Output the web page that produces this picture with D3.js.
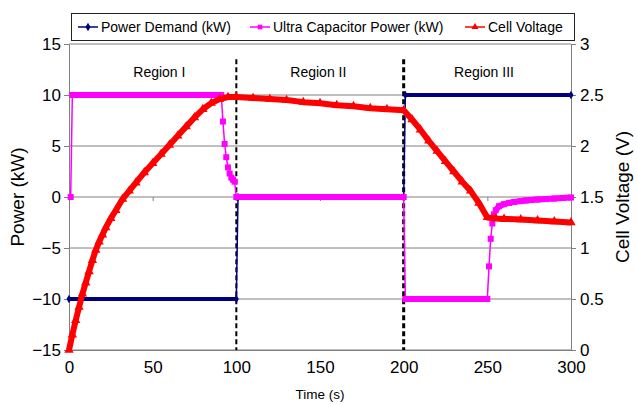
<!DOCTYPE html>
<html>
<head>
<meta charset="utf-8">
<script src="https://cdn.jsdelivr.net/npm/d3@7"></script>
<style>
  body { margin: 0; background: #fff; }
  svg { display: block; font-family: "Liberation Sans", Arial, sans-serif; }
</style>
</head>
<body>
<svg width="637" height="404"></svg>
<script>
// Power Demand (kW)
const demandTime = [0, 100, 101, 200, 201, 300];
const demandKW = [-10, -10, 0, 0, 10, 10];

// Ultra Capacitor Power (kW)
const capTime = [1, 2, 91, 92, 93, 94, 95, 96, 97, 98, 99, 100, 200, 201, 250, 251, 252, 253, 254, 255, 257, 260, 263, 266, 270, 273, 276, 280, 285, 290, 295, 300];
const capKW = [0, 10, 10, 7.4, 5.2, 3.9, 2.9, 2.3, 1.9, 1.7, 1.5, 0, 0, -10, -10, -6.8, -4.1, -2.6, -1.7, -1.3, -0.9, -0.7, -0.58, -0.48, -0.4, -0.34, -0.3, -0.25, -0.2, -0.15, -0.1, -0.05];

// Cell Voltage (V)
const voltTime = [0, 2, 4, 6, 8, 10, 12, 14, 16, 18, 20, 22, 25, 28, 32, 36, 40, 45, 50, 55, 60, 65, 70, 75, 80, 85, 90, 95, 100,
  110, 120, 130, 140, 150, 160, 170, 180, 190, 200,
  205, 210, 215, 220, 225, 230, 235, 240, 245, 250, 255, 260, 270, 280, 290, 300];
const voltV = [0, 0.15, 0.29, 0.42, 0.55, 0.66, 0.77, 0.88, 0.98, 1.06, 1.13, 1.20, 1.29, 1.37, 1.48, 1.56, 1.64, 1.74, 1.83, 1.92, 2.01, 2.10, 2.19, 2.28, 2.36, 2.42, 2.46, 2.48, 2.48,
  2.47, 2.46, 2.45, 2.43, 2.42, 2.40, 2.39, 2.37, 2.36, 2.35,
  2.26, 2.16, 2.05, 1.95, 1.85, 1.75, 1.65, 1.56, 1.44, 1.30, 1.29, 1.285, 1.28, 1.27, 1.26, 1.25];

const xTicks = [0, 50, 100, 150, 200, 250, 300];
const leftTicks = [-15, -10, -5, 0, 5, 10, 15];
const rightTicks = [0, 0.5, 1, 1.5, 2, 2.5, 3];
const regionNames = ["Region I", "Region II", "Region III"];
const regionCenters = [54, 149, 248];
const regionBounds = [100, 200];

const svg = d3.select("svg");
const x = d3.scaleLinear().domain([0, 300]).range([69, 571]);
const yL = d3.scaleLinear().domain([-15, 15]).range([350, 44]);
const yR = d3.scaleLinear().domain([0, 3]).range([350, 44]);
const grey = "#808080";

// grid lines
svg.append("g").selectAll("line")
  .data(leftTicks)
  .enter().append("line")
  .attr("x1", x(0)).attr("x2", x(300))
  .attr("y1", d => yL(d)).attr("y2", d => yL(d))
  .attr("stroke", grey).attr("stroke-width", 1);

// left axis
const gL = svg.append("g")
  .attr("transform", `translate(${x(0)},0)`)
  .call(d3.axisLeft(yL).tickValues(leftTicks).tickSize(5).tickSizeOuter(0).tickPadding(3));
// right axis
const gR = svg.append("g")
  .attr("transform", `translate(${x(300)},0)`)
  .call(d3.axisRight(yR).tickValues(rightTicks).tickSize(5).tickSizeOuter(0).tickPadding(4)
    .tickFormat(d3.format("~g")));
// x ticks sit on the zero line, labels under the plot
const gX0 = svg.append("g")
  .attr("transform", `translate(0,${yL(0)})`)
  .call(d3.axisBottom(x).tickValues(xTicks).tickSize(4).tickSizeOuter(0).tickFormat(""));
gX0.select(".domain").remove();
const gX = svg.append("g")
  .attr("transform", `translate(0,${yL(-15)})`)
  .call(d3.axisBottom(x).tickValues(xTicks).tickSize(0).tickSizeOuter(0).tickPadding(11));

[gL, gR, gX0, gX].forEach(g => {
  g.selectAll(".domain").attr("stroke", grey);
  g.selectAll(".tick line").attr("stroke", grey);
  g.selectAll("text").attr("font-size", 17).attr("fill", "#000")
    .attr("font-family", "Liberation Sans, Arial, sans-serif");
});

// region dividers
svg.append("g").selectAll("line")
  .data(regionBounds)
  .enter().append("line")
  .attr("x1", d => x(d)).attr("x2", d => x(d))
  .attr("y1", yL(13.5)).attr("y2", yL(-15))
  .attr("stroke", "#000")
  .attr("stroke-width", (d, i) => i === 0 ? 2 : 3)
  .attr("stroke-dasharray", "5,3");

svg.append("g").selectAll("text")
  .data(regionNames)
  .enter().append("text")
  .attr("x", (d, i) => x(regionCenters[i]))
  .attr("y", yL(11.75))
  .attr("text-anchor", "middle")
  .attr("font-size", 14)
  .text(d => d);

// series drawing: thin line, a thick band where the samples are dense and flat, markers
function drawSeries(ts, vs, y, color, bandW, marker, markerSize) {
  const pts = ts.map((t, i) => [x(t), y(vs[i])]);
  const g = svg.append("g");
  g.append("path")
    .attr("d", d3.line()(pts))
    .attr("fill", "none").attr("stroke", color).attr("stroke-width", 1.5);
  const band = [];
  for (let i = 1; i < pts.length; i++) {
    const dx = pts[i][0] - pts[i - 1][0], dy = Math.abs(pts[i][1] - pts[i - 1][1]);
    if (dx > 0 && dy / dx < 1.5) band.push([pts[i - 1], pts[i]]);
  }
  g.selectAll("path.band")
    .data(band)
    .enter().append("path")
    .attr("class", "band")
    .attr("d", d => d3.line()(d))
    .attr("fill", "none").attr("stroke", color).attr("stroke-width", bandW);
  g.selectAll("path.mark")
    .data(pts)
    .enter().append("path")
    .attr("class", "mark")
    .attr("transform", d => `translate(${d[0]},${d[1]})`)
    .attr("d", d3.symbol().type(marker).size(markerSize))
    .attr("fill", color);
}

drawSeries(demandTime, demandKW, yL, "#000080", 4, d3.symbolDiamond, 22);
drawSeries(capTime, capKW, yL, "#ff00ff", 6, d3.symbolSquare, 36);
// voltage band is thick everywhere (markers every second in the source)
(function () {
  const pts = voltTime.map((t, i) => [x(t), yR(voltV[i])]);
  const g = svg.append("g");
  g.append("path")
    .attr("d", d3.line()(pts))
    .attr("fill", "none").attr("stroke", "#ff0000").attr("stroke-width", 6)
    .attr("stroke-linejoin", "round");
  g.selectAll("path.mark")
    .data(pts)
    .enter().append("path")
    .attr("transform", d => `translate(${d[0]},${d[1]})`)
    .attr("d", d3.symbol().type(d3.symbolTriangle).size(38))
    .attr("fill", "#ff0000");
})();

// axis titles
svg.append("text")
  .attr("transform", `translate(24,${yL(0)}) rotate(-90)`)
  .attr("text-anchor", "middle")
  .attr("font-size", 19)
  .text("Power (kW)");
svg.append("text")
  .attr("transform", `translate(629,${yL(0)}) rotate(-90)`)
  .attr("text-anchor", "middle")
  .attr("font-size", 19)
  .text("Cell Voltage (V)");
svg.append("text")
  .attr("x", x(150)).attr("y", 399)
  .attr("text-anchor", "middle")
  .attr("font-size", 13.5)
  .text("Time (s)");

// legend
const legendItems = ["Power Demand (kW)", "Ultra Capacitor Power (kW)", "Cell Voltage"];
const legendColors = ["#000080", "#ff00ff", "#ff0000"];
const legendMarkers = [d3.symbolDiamond, d3.symbolSquare, d3.symbolTriangle];
const legendX = [78, 250, 465];
const lg = svg.append("g");
lg.append("rect")
  .attr("x", 71.5).attr("y", 13.5).attr("width", 503).attr("height", 27)
  .attr("fill", "#fff").attr("stroke", "#222").attr("stroke-width", 1);
const item = lg.selectAll("g.item")
  .data(legendItems)
  .enter().append("g")
  .attr("transform", (d, i) => `translate(${legendX[i]},27)`);
item.append("line")
  .attr("x1", 0).attr("x2", 20)
  .attr("stroke", (d, i) => legendColors[i]).attr("stroke-width", 1.5);
item.append("path")
  .attr("transform", "translate(10,0)")
  .attr("d", (d, i) => d3.symbol().type(legendMarkers[i]).size(22)())
  .attr("fill", (d, i) => legendColors[i]);
item.append("text")
  .attr("x", 23).attr("y", 5)
  .attr("font-size", 14)
  .text(d => d);
</script>
</body>
</html>
